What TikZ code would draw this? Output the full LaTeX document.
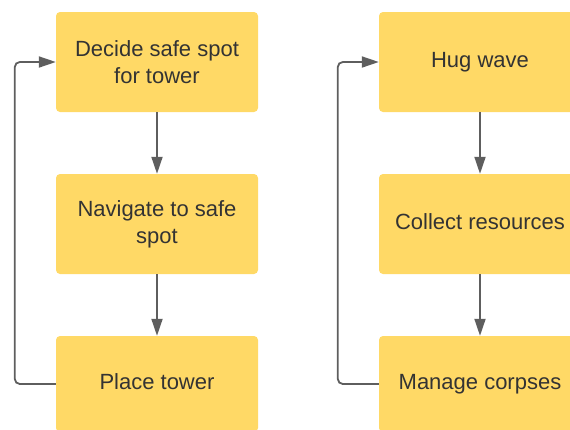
\documentclass[tikz,border=0pt]{standalone}
\usepackage{fontspec}
\setmainfont{Liberation Sans}
\usetikzlibrary{arrows.meta}
\definecolor{boxfill}{HTML}{FFD966}
\definecolor{linegray}{HTML}{5E5E5E}
\definecolor{txt}{HTML}{333333}
\begin{document}
\begin{tikzpicture}[x=1pt,y=-1pt,
  stepbox/.style={draw=none,fill=boxfill,rounded corners=4pt,minimum width=202pt,
    minimum height=100pt,inner sep=0pt,align=center,text=txt,
    font=\fontsize{22}{27}\selectfont},
  oneline/.style={text height=16pt,text depth=4.6pt},
  conn/.style={draw=linegray,line width=1.8pt,-{Triangle[length=17pt,width=11pt]}},
  loopline/.style={conn,rounded corners=5pt}]
\useasboundingbox (0,0) rectangle (570,429);
\clip (0,0) rectangle (570,429);
\node[stepbox] (a) at (157,62) {Decide safe spot\\for tower};
\node[stepbox] (b) at (157,224) {Navigate to safe\\spot};
\node[stepbox,oneline,minimum height=96pt] (c) at (157,384) {Place tower};
\node[stepbox,oneline] (d) at (480,62) {Hug wave};
\node[stepbox,oneline] (e) at (480,224) {Collect resources};
\node[stepbox,oneline,minimum height=96pt] (f) at (480,384) {Manage corpses};
\draw[conn] (a) -- (b);
\draw[conn] (b) -- (c);
\draw[conn] (d) -- (e);
\draw[conn] (e) -- (f);
\draw[loopline] (c.west) -- ++(-41,0) |- (a.west);
\draw[loopline] (f.west) -- ++(-41,0) |- (d.west);
\end{tikzpicture}
\end{document}
